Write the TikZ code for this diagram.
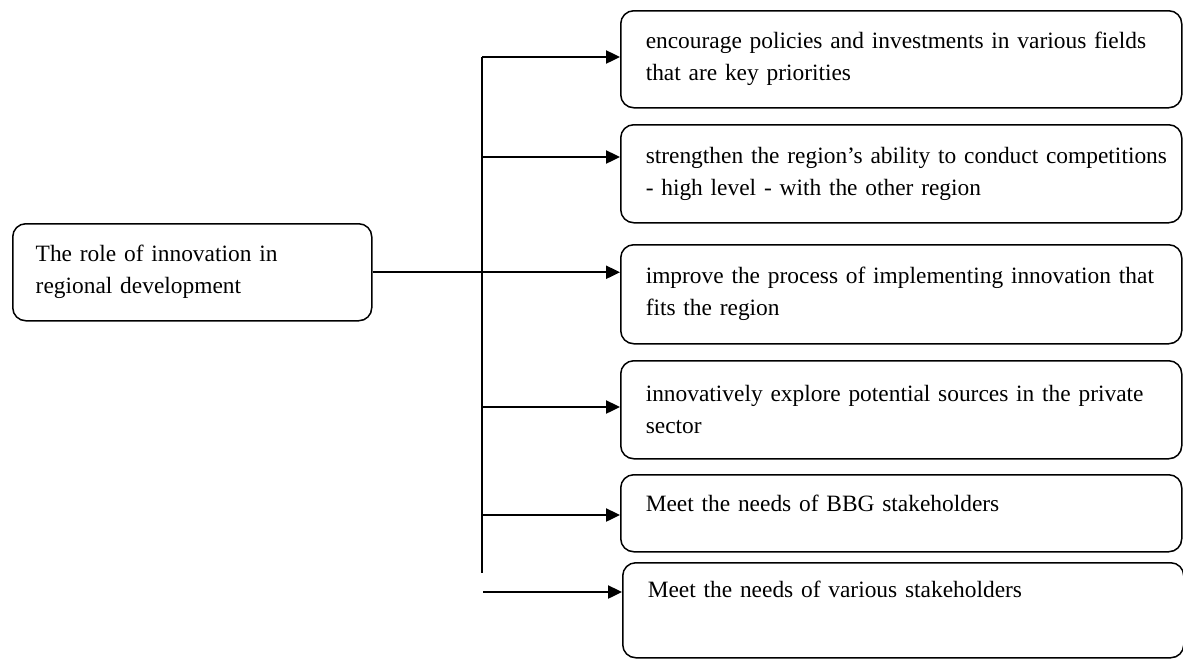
\documentclass[tikz,border=0pt]{standalone}
\usepackage{fontspec}
\setmainfont{Liberation Serif}
\usetikzlibrary{arrows.meta, positioning}

\tikzset{
    rolebox/.style={draw, line width=0.75pt, rounded corners=6.5pt, anchor=north west,
        align=left, inner xsep=12.5pt, inner ysep=0pt,
        text width=255.5pt, minimum width=280.5pt,
        font=\fontsize{11.7}{16}\selectfont},
    feed/.style={-{Triangle[length=7pt, width=6.5pt]}, line width=1.2pt},
}

\begin{document}
\begin{tikzpicture}[x=0.5pt, y=-0.5pt]
    \useasboundingbox (0,0) rectangle (1183,659);

    % Root box
    \node[rolebox, text width=156.5pt, minimum width=179.5pt, inner xsep=11.5pt,
        minimum height=48.5pt] (root) at (12,223)
        {The role of innovation in\\regional development};

    % Outcome boxes
    \node[rolebox, minimum height=48.5pt] (b1) at (620,10)
        {encourage policies and investments in various fields\\that are key priorities};
    \node[rolebox, minimum height=49pt] (b2) at (620,124)
        {\mbox{strengthen the region{\char"27}s ability to conduct competitions}\\- high level - with the other region};
    \node[rolebox, minimum height=49.5pt] (b3) at (620,244)
        {improve the process of implementing innovation that\\fits the region};
    \node[rolebox, minimum height=49pt] (b4) at (620,360)
        {innovatively explore potential sources in the private\\sector};
    \node[rolebox, minimum height=38.5pt] (b5) at (620,474)
        {Meet the needs of BBG stakeholders\\[-11pt]\strut};
    \node[rolebox, minimum height=47.5pt] (b6) at (622,562)
        {Meet the needs of various stakeholders\\\strut};

    % Trunk
    \coordinate (t1) at (482,57);
    \coordinate (t2) at (482,157);
    \coordinate (t4) at (482,407);
    \coordinate (t5) at (482,515);
    \coordinate (tend) at (482,573);
    \coordinate (t6) at (483,592);
    \draw[line width=1pt] (t1) -- (tend);

    % Branches
    \draw[feed] (root.east) -- (root.east -| b3.west);
    \draw[feed] (t1) -- (t1 -| b1.west);
    \draw[feed] (t2) -- (t2 -| b2.west);
    \draw[feed] (t4) -- (t4 -| b4.west);
    \draw[feed] (t5) -- (t5 -| b5.west);
    \draw[feed] (t6) -- (t6 -| b6.west);
\end{tikzpicture}
\end{document}
